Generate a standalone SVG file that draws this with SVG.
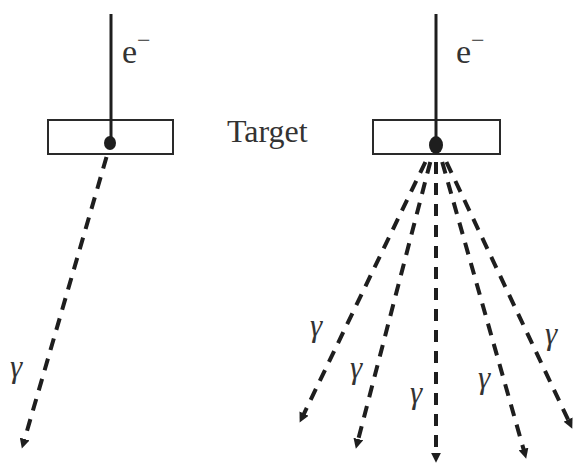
<svg xmlns="http://www.w3.org/2000/svg" width="575" height="466" viewBox="0 0 575 466">
<style>
.box{fill:none;stroke:#2a2a2a;stroke-width:2}
.beam{stroke:#1e1e1e;stroke-width:3;fill:none}
.ray{stroke:#1e1e1e;stroke-width:4;fill:none;stroke-dasharray:12 9;marker-end:url(#ah)}
.lbl{font-family:"Liberation Serif",serif;fill:#333}
.g{font-family:"Liberation Serif",serif;font-style:italic;font-size:31px;fill:#333}
</style>
<defs>
<marker id="ah" viewBox="0 0 10 10" refX="3" refY="5" markerWidth="10" markerHeight="10" markerUnits="userSpaceOnUse" orient="auto">
<path d="M0,0 L10,5 L0,10 z" fill="#1e1e1e"/>
</marker>
</defs>
<rect width="575" height="466" fill="#fff"/>
<g id="left-target">
<rect class="box" x="48" y="120" width="125" height="34"/>
</g>
<g id="right-target">
<rect class="box" x="373" y="120" width="127" height="34"/>
</g>
<g id="left-electron">
<line class="beam" x1="111" y1="14" x2="111" y2="142"/>
<ellipse cx="110" cy="143" rx="6" ry="7" fill="#1e1e1e"/>
<text class="lbl" x="122" y="63" font-size="34">e<tspan font-size="24" dy="-15">−</tspan></text>
</g>
<g id="right-electron">
<line class="beam" x1="436" y1="14" x2="436" y2="142"/>
<ellipse cx="436" cy="145" rx="7" ry="9" fill="#1e1e1e"/>
<text class="lbl" x="456" y="63" font-size="34">e<tspan font-size="24" dy="-15">−</tspan></text>
</g>
<g id="target-label">
<text class="lbl" x="227" y="142" font-size="32">Target</text>
</g>
<g id="connectors">
<path class="ray" d="M106.5,157 L23.8,441.9"/>
<path class="ray" d="M425.4,162 L302.7,416.3"/>
<path class="ray" d="M430.3,162 L357.6,441.9"/>
<path class="ray" d="M436,162 L436,455.7"/>
<path class="ray" d="M442.2,162 L524.3,451.9"/>
<path class="ray" d="M446.4,162 L569.3,422.3"/>
</g>
<g id="gamma-labels">
<text class="g" x="10" y="377">γ</text>
<text class="g" x="310" y="336">γ</text>
<text class="g" x="350" y="378">γ</text>
<text class="g" x="410" y="403">γ</text>
<text class="g" x="478" y="388">γ</text>
<text class="g" x="545" y="344">γ</text>
</g>
</svg>
